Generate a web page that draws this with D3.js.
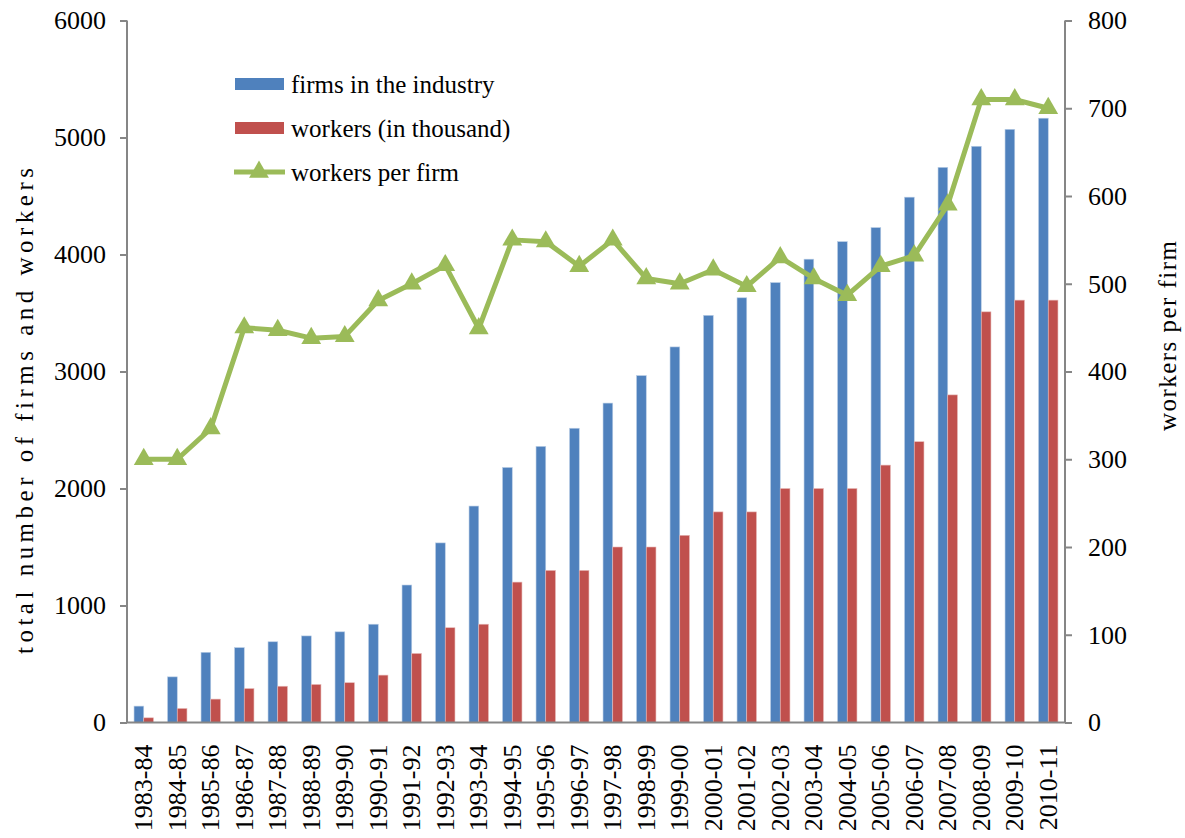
<!DOCTYPE html>
<html>
<head>
<meta charset="utf-8">
<script src="https://cdn.jsdelivr.net/npm/d3@7"></script>
<style>
  body { margin: 0; background: #fff; }
  svg { display: block; font-family: "Liberation Serif", "Times New Roman", serif; }
</style>
</head>
<body>
<svg id="chart"></svg>
<script>
const years = ["1983-84","1984-85","1985-86","1986-87","1987-88","1988-89","1989-90","1990-91",
  "1991-92","1992-93","1993-94","1994-95","1995-96","1996-97","1997-98","1998-99","1999-00",
  "2000-01","2001-02","2002-03","2003-04","2004-05","2005-06","2006-07","2007-08","2008-09",
  "2009-10","2010-11"];
const firms = [140, 390, 600, 640, 690, 740, 775, 840, 1175, 1535, 1850, 2180, 2360, 2515,
  2730, 2965, 3210, 3480, 3630, 3760, 3960, 4110, 4230, 4490, 4745, 4925, 5070, 5165];
const workers = [40, 120, 200, 290, 310, 325, 340, 405, 590, 810, 840, 1200, 1300, 1300,
  1500, 1500, 1600, 1800, 1800, 2000, 2000, 2000, 2200, 2400, 2800, 3510, 3610, 3610];
const perFirm = [300, 300, 335, 450, 447, 438, 440, 481, 500, 521, 449, 550, 548, 520,
  550, 506, 500, 516, 497, 530, 506, 487, 520, 532, 590, 710, 710, 700];
const leftTicks = [0, 1000, 2000, 3000, 4000, 5000, 6000];
const rightTicks = [0, 100, 200, 300, 400, 500, 600, 700, 800];
const seriesNames = ["firms in the industry", "workers (in thousand)", "workers per firm"];
const colors = { firms: "#4f81bd", workers: "#c0504d", line: "#9bbb59" };

const width = 1185, height = 838;
const plot = { left: 127, right: 1065, top: 20.5, bottom: 722.5 };

const svg = d3.select("#chart").attr("width", width).attr("height", height);

const x0 = d3.scaleBand().domain(years).range([plot.left, plot.right])
  .paddingInner(0.42).paddingOuter(0.21);
const x1 = d3.scaleBand().domain(["firms", "workers"]).range([0, x0.bandwidth()]);
const yL = d3.scaleLinear().domain([0, 6000]).range([plot.bottom, plot.top]);
const yR = d3.scaleLinear().domain([0, 800]).range([plot.bottom, plot.top]);

// bars
const groups = svg.append("g").selectAll("g")
  .data(years).join("g")
  .attr("transform", d => `translate(${x0(d)},0)`);

groups.append("rect")
  .attr("x", x1("firms"))
  .attr("width", x1.bandwidth())
  .attr("y", (d, i) => yL(firms[i]))
  .attr("height", (d, i) => yL(0) - yL(firms[i]))
  .attr("fill", colors.firms)
  .attr("stroke", "#b9cde5").attr("stroke-width", 0.6);

groups.append("rect")
  .attr("x", x1("workers"))
  .attr("width", x1.bandwidth())
  .attr("y", (d, i) => yL(workers[i]))
  .attr("height", (d, i) => yL(0) - yL(workers[i]))
  .attr("fill", colors.workers)
  .attr("stroke", "#e6b9b8").attr("stroke-width", 0.6);

// axes
const axisColor = "#868686";
const leftAxis = svg.append("g")
  .attr("transform", `translate(${plot.left},0)`)
  .call(d3.axisLeft(yL).tickValues(leftTicks).tickSize(7).tickPadding(14).tickFormat(d3.format("d")));
const rightAxis = svg.append("g")
  .attr("transform", `translate(${plot.right},0)`)
  .call(d3.axisRight(yR).tickValues(rightTicks).tickSize(7).tickPadding(16).tickFormat(d3.format("d")));
const bottomAxis = svg.append("g")
  .attr("transform", `translate(0,${plot.bottom})`)
  .call(d3.axisBottom(x0).tickSize(0).tickSizeOuter(0).tickPadding(0));

[leftAxis, rightAxis, bottomAxis].forEach(a => {
  a.select(".domain").attr("stroke", axisColor).attr("stroke-width", 2);
  a.selectAll(".tick line").attr("stroke", axisColor).attr("stroke-width", 2);
  a.selectAll("text").attr("fill", "#000").style("font-family", "Liberation Serif, serif");
});
leftAxis.select(".domain").attr("d", `M0,${plot.top}V${plot.bottom}`);
rightAxis.select(".domain").attr("d", `M0,${plot.top}V${plot.bottom}`);
bottomAxis.select(".domain").attr("d", `M${plot.left},0H${plot.right}`);
leftAxis.selectAll("text").style("font-size", "26px");
rightAxis.selectAll("text").style("font-size", "26px");
bottomAxis.selectAll("text")
  .style("font-size", "26px")
  .attr("text-anchor", "end")
  .attr("dominant-baseline", "central")
  .attr("transform", "translate(0,22) rotate(-90)")
  .attr("x", 0).attr("y", 0).attr("dy", null);

// line
const line = d3.line()
  .x((d, i) => x0(years[i]) + x0.bandwidth() / 2)
  .y(d => yR(d));
svg.append("path")
  .datum(perFirm)
  .attr("d", line)
  .attr("fill", "none")
  .attr("stroke", colors.line)
  .attr("stroke-width", 5)
  .attr("stroke-linejoin", "round");

const tri = d3.symbol().type(d3.symbolTriangle).size(170);
svg.append("g").selectAll("path")
  .data(perFirm).join("path")
  .attr("d", tri)
  .attr("transform", (d, i) => `translate(${x0(years[i]) + x0.bandwidth() / 2},${yR(d)})`)
  .attr("fill", colors.line);

// axis titles
svg.append("text")
  .attr("transform", `translate(24,411) rotate(-90)`)
  .attr("text-anchor", "middle")
  .attr("dominant-baseline", "central")
  .style("font-size", "25px")
  .attr("textLength", 486)
  .attr("lengthAdjust", "spacing")
  .text("total number of  firms and  workers");

svg.append("text")
  .attr("transform", `translate(1167,336) rotate(-90)`)
  .attr("text-anchor", "middle")
  .attr("dominant-baseline", "central")
  .style("font-size", "25px")
  .attr("textLength", 190)
  .attr("lengthAdjust", "spacing")
  .text("workers per firm");

// legend
const legend = svg.append("g");
const legendRows = [
  { name: seriesNames[0], type: "bar", color: colors.firms, y: 84 },
  { name: seriesNames[1], type: "bar", color: colors.workers, y: 128 },
  { name: seriesNames[2], type: "line", color: colors.line, y: 172 }
];
legendRows.forEach(r => {
  if (r.type === "bar") {
    legend.append("rect").attr("x", 235).attr("y", r.y - 6).attr("width", 49).attr("height", 12)
      .attr("fill", r.color);
  } else {
    legend.append("line").attr("x1", 234).attr("x2", 285).attr("y1", r.y).attr("y2", r.y)
      .attr("stroke", r.color).attr("stroke-width", 5);
    legend.append("path").attr("d", tri).attr("transform", `translate(259,${r.y})`).attr("fill", r.color);
  }
  legend.append("text").attr("x", 291).attr("y", r.y)
    .attr("dominant-baseline", "central")
    .style("font-size", "25px")
    .text(r.name);
});
</script>
</body>
</html>
